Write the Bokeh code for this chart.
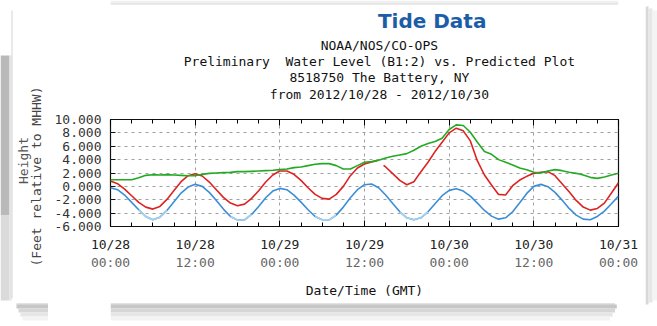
import math
from bokeh.plotting import figure
from bokeh.layouts import column, row
from bokeh.models import LinearAxis, FixedTicker, Range1d, Grid
from bokeh.core.properties import value
from bokeh.embed import file_html
from bokeh.resources import INLINE

nan = float("nan")

# hours since 2012/10/28 00:00 GMT
hours = list(range(73))

predicted = [-0.2, -0.5, -1.3, -2.4, -3.5, -4.5, -5.0, -4.6, -3.6, -2.3,
             -1.0, -0.1, 0.3, 0.0, -0.9, -2.1, -3.4, -4.5, -5.05, -5.0,
             -4.2, -3.0, -1.7, -0.7, -0.3, -0.5, -1.3, -2.35, -3.5, -4.5,
             -5.0, -5.0, -4.3, -3.1, -1.7, -0.5, 0.25, 0.35, -0.2, -1.3,
             -2.55, -3.8, -4.7, -5.0, -4.7, -3.8, -2.6, -1.4, -0.6, -0.35,
             -0.7, -1.45, -2.5, -3.6, -4.45, -4.9, -4.7, -3.8, -2.45, -1.05,
             0.0, 0.3, -0.05, -0.9, -2.05, -3.3, -4.3, -4.9, -5.0, -4.5,
             -3.7, -2.6, -1.45]

# stretches (hours) where the predicted curve is drawn in a paler blue
pale_windows = [(4, 8), (17, 20), (29, 32), (41, 45)]

observed_hours = list(range(38)) + [37.8, 38.2, 38.7] + list(range(39, 73))
observed = [0.8, 0.4, -0.4, -1.4, -2.4, -3.1, -3.4, -3.0, -1.95, -0.6,
            0.7, 1.6, 1.9, 1.55, 0.65, -0.5, -1.65, -2.5, -2.9, -2.65,
            -1.8, -0.65, 0.65, 1.7, 2.3, 2.3, 1.8, 0.9, -0.2, -1.2,
            -1.8, -1.9, -1.2, 0.0, 1.6, 2.75, 3.35, 3.65,
            3.85, nan, 3.15,
            2.9, 1.9, 0.9, 0.25, 0.7, 2.2, 3.6, 5.2, 6.6, 8.0,
            8.7, 8.3, 6.8, 3.8, 1.7, 0.2, -1.2, -1.3, 0.1, 0.95,
            1.5, 1.95, 2.1, 2.2, 1.6, 0.4, -0.8, -2.1, -3.1, -3.55,
            -3.3, -2.5, -1.0, 0.55]

residual = [1.0, 1.0, 1.0, 1.0, 1.3, 1.65, 1.75, 1.7, 1.75, 1.7,
            1.65, 1.6, 1.6, 1.8, 1.95, 2.0, 2.05, 2.1, 2.2, 2.2,
            2.25, 2.3, 2.35, 2.4, 2.5, 2.6, 2.8, 2.9, 3.1, 3.3,
            3.4, 3.4, 3.1, 2.6, 2.6, 3.1, 3.6, 3.7, 3.9, 4.25,
            4.5, 4.7, 4.9, 5.4, 6.0, 6.4, 6.7, 7.2, 8.5, 9.2,
            9.1, 8.1, 6.6, 5.2, 4.8, 4.0, 3.6, 3.2, 2.75, 2.5,
            2.1, 2.0, 2.3, 2.5, 2.35, 2.1, 1.95, 1.7, 1.35, 1.2,
            1.4, 1.7, 1.95]

x_ticks = [0, 12, 24, 36, 48, 60, 72]
x_minor = list(range(0, 73, 3))
date_labels = ["10/28", "10/28", "10/29", "10/29", "10/30", "10/30", "10/31"]
time_labels = ["00:00", "12:00", "00:00", "12:00", "00:00", "12:00", "00:00"]
y_ticks = [-6, -4, -2, 0, 2, 4, 6, 8, 10]

title = "Tide Data"
subtitles = ["NOAA/NOS/CO-OPS",
             "Preliminary\u00a0 Water Level (B1:2) vs. Predicted Plot",
             "8518750 The Battery, NY",
             "from 2012/10/28 - 2012/10/30"]
x_title = "Date/Time (GMT)"
y_title = ["Height", "(Feet relative to MHHW)"]

MONO = "DejaVu Sans Mono"
FS = "13px"
TOTAL_W, TOTAL_H = 657, 326
LEFT_W, RIGHT_W = 48, 12
MID_W = TOTAL_W - LEFT_W - RIGHT_W
HEAD_H, MAIN_H, FOOT_H = 110, 190, 26
EDGE = "#d4d4d4"
SHADOW = ["#c6c6c6", "#d6d6d6", "#e6e6e6", "#f3f3f3"]


def blank(width, height):
    f = figure(width=width, height=height, output_backend="svg", toolbar_location=None,
               x_range=Range1d(0, width), y_range=Range1d(height, 0),
               x_axis_type=None, y_axis_type=None, min_border=0)
    f.outline_line_color = None
    f.background_fill_color = "white"
    f.border_fill_color = "white"
    return f


# ---------- left strip: y-axis title and card edge ----------
left = blank(LEFT_W, TOTAL_H)
left.quad(left=[0, 0], right=[9, 9], top=[55, 215], bottom=[215, 300],
          fill_color=["#b9b9b9", "#dadada"], line_color=None)
left.quad(left=[9], right=[11], top=[55], bottom=[300], fill_color="#e4e4e4", line_color=None)
left.segment(x0=[11.5], y0=[10], x1=[11.5], y1=[298], line_color=EDGE, line_width=1)
left.quad(left=[16, 18, 20, 22], right=[LEFT_W] * 4,
          top=[304, 308, 312, 316], bottom=[308, 312, 316, 320],
          fill_color=SHADOW, line_color=None)
left.segment(x0=[16], y0=[303.5], x1=[LEFT_W], y1=[303.5], line_color="#c4c4c4", line_width=1)
left.text(x=[23], y=[160], text=[y_title[0]], angle=math.pi / 2,
          text_font=value(MONO), text_font_size=FS, text_color="#555555",
          text_align="center", text_baseline="middle")
left.text(x=[36], y=[176], text=[y_title[1]], angle=math.pi / 2,
          text_font=value(MONO), text_font_size=FS, text_color="#444444",
          text_align="center", text_baseline="middle")

# ---------- header ----------
head = blank(MID_W, HEAD_H)
head.quad(left=[0], right=[MID_W], top=[0], bottom=[3], fill_color="#f0f0f0", line_color=None)
head.segment(x0=[0], y0=[3.5], x1=[MID_W], y1=[3.5], line_color=EDGE, line_width=1)
head.text(x=[426 - LEFT_W], y=[20], text=[title], text_font=value("DejaVu Sans"),
          text_font_style="bold", text_font_size="20px", text_color="#1b5ea7",
          text_align="center", text_baseline="middle")
head.text(x=[364 - LEFT_W] * len(subtitles), y=[45 + 16.2 * i for i in range(len(subtitles))],
          text=subtitles, text_font=value(MONO), text_font_size=FS,
          text_color="#111111", text_align="center", text_baseline="middle")

# ---------- main chart ----------
p = figure(width=MID_W, height=MAIN_H, output_backend="svg", toolbar_location=None,
           x_range=Range1d(0, 72), y_range=Range1d(-6, 10),
           x_axis_type=None, y_axis_type=None,
           min_border_left=110 - LEFT_W, min_border_right=(TOTAL_W - RIGHT_W) - 618,
           min_border_top=9, min_border_bottom=72)
p.background_fill_color = "white"
p.border_fill_color = "white"
p.outline_line_color = "#111111"
p.outline_line_width = 1.2

for dim, ticks in ((0, x_ticks), (1, y_ticks)):
    g = Grid(dimension=dim, ticker=FixedTicker(ticks=ticks))
    g.grid_line_color = "#a0a0a0"
    g.grid_line_dash = "3 4"
    g.grid_line_width = 1
    p.add_layout(g)

ya = LinearAxis(ticker=FixedTicker(ticks=y_ticks),
                major_label_overrides={v: f"{v:.3f}" for v in y_ticks})
ya.axis_line_color = None
ya.major_tick_in = 5
ya.major_tick_out = 0
ya.major_tick_line_color = "#111111"
ya.minor_tick_in = 0
ya.minor_tick_out = 0
ya.major_label_standoff = 9
ya.major_label_text_font = MONO
ya.major_label_text_font_size = FS
ya.major_label_text_color = "#333333"
p.add_layout(ya, "left")

xa = LinearAxis(ticker=FixedTicker(ticks=x_ticks, minor_ticks=x_minor),
                major_label_overrides={t: d for t, d in zip(x_ticks, date_labels)})
xa.axis_line_color = None
xa.major_tick_in = 6
xa.major_tick_out = 0
xa.minor_tick_in = 4
xa.minor_tick_out = 0
xa.major_label_standoff = 10
xa.major_label_text_font = MONO
xa.major_label_text_font_size = FS
xa.major_label_text_color = "#222222"
p.add_layout(xa, "below")

xb = LinearAxis(ticker=FixedTicker(ticks=x_ticks),
                major_label_overrides={t: s for t, s in zip(x_ticks, time_labels)})
xb.axis_line_color = None
xb.major_tick_in = 0
xb.major_tick_out = 0
xb.minor_tick_in = 0
xb.minor_tick_out = 0
xb.major_label_standoff = 0
xb.major_label_text_font = MONO
xb.major_label_text_font_size = FS
xb.major_label_text_color = "#666666"
xb.axis_label = x_title
xb.axis_label_text_font = MONO
xb.axis_label_text_font_size = FS
xb.axis_label_text_font_style = "normal"
xb.axis_label_text_color = "#111111"
xb.axis_label_standoff = 10
p.add_layout(xb, "below")

xt = LinearAxis(ticker=FixedTicker(ticks=x_ticks, minor_ticks=x_minor))
xt.axis_line_color = None
xt.major_tick_in = 6
xt.major_tick_out = 0
xt.minor_tick_in = 4
xt.minor_tick_out = 0
xt.major_label_standoff = 0
xt.major_label_text_font_size = "0px"
xt.major_label_text_color = None
p.add_layout(xt, "above")

p.line(hours, predicted, line_color="#3b8ed6", line_width=1.6)
for a, b in pale_windows:
    p.line(hours[a:b + 1], predicted[a:b + 1], line_color="#a6d3f0", line_width=1.6)
p.line(observed_hours, observed, line_color="#dd2222", line_width=1.6)
p.line(hours, residual, line_color="#22aa22", line_width=1.6)

# ---------- footer: card bottom edge and shadow ----------
foot = blank(MID_W, FOOT_H)
foot.segment(x0=[0], y0=[3.5], x1=[MID_W - 4], y1=[3.5], line_color="#c4c4c4", line_width=1)
foot.quad(left=[0, 0, 0, 0], right=[MID_W - 2, MID_W - 4, MID_W - 7, MID_W - 10],
          top=[4, 8, 12, 16], bottom=[8, 12, 16, 20],
          fill_color=SHADOW, line_color=None)

# ---------- right strip: card shadow ----------
right = blank(RIGHT_W, TOTAL_H)
right.quad(left=[0, 3, 7], right=[3, 7, 12], top=[6, 8, 10], bottom=[304, 302, 300],
           fill_color=["#d8d8d8", "#e7e7e7", "#f4f4f4"], line_color=None)

layout = row(left, column(head, p, foot, spacing=0), right, spacing=0)
open("out.html", "w").write(file_html(layout, INLINE))
